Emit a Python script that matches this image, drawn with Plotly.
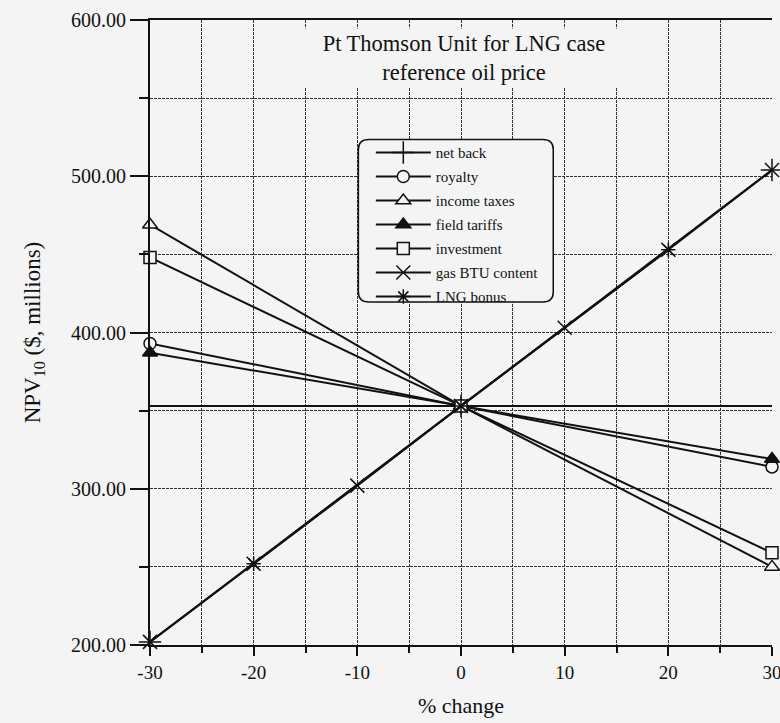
import plotly.graph_objects as go

# Sensitivity of NPV10 to percentage changes in each input
pct_change = [-30, -20, -10, 0, 10, 20, 30]
end_points = [-30, 0, 30]
bonus_points = [-20, 0, 20]

gas_btu = [202, 252, 302, 353, 403, 453, 504]
net_back = [202, 353, 504]
lng_bonus = [252, 353, 453]
royalty = [393, 353, 314]
income_taxes = [469, 353, 250]
field_tariffs = [387, 353, 319]
investment = [448, 353, 259]
base_case = [353, 353]
base_span = [-30, 30]

x_ticks = [-30, -20, -10, 0, 10, 20, 30]
y_ticks = [200, 300, 400, 500, 600]

BG = "#f4f4f4"
INK = "#111111"
SERIF = "Liberation Serif, Times New Roman, serif"

fig = go.Figure()


def add_series(name, xs, ys, symbol, size, fill):
    # fill: colour inside closed symbols; stroke-only symbols take INK
    fig.add_trace(go.Scatter(
        x=xs, y=ys, name=name, mode="lines+markers",
        legendgroup=name,
        line=dict(color=INK, width=2),
        marker=dict(symbol=symbol, size=size, color=fill,
                    line=dict(color=INK, width=1.5)),
        cliponaxis=False,
    ))


# flat base-case line
fig.add_trace(go.Scatter(x=base_span, y=base_case, mode="lines",
                         line=dict(color=INK, width=2), showlegend=False,
                         hoverinfo="skip"))

add_series("net back", end_points, net_back, "cross-thin-open", 16, INK)
add_series("royalty", end_points, royalty, "circle", 12, BG)
add_series("income taxes", end_points, income_taxes, "triangle-up", 13, BG)
add_series("field tariffs", end_points, field_tariffs, "triangle-up", 13, INK)
add_series("investment", end_points, investment, "square", 12, BG)
add_series("gas BTU content", pct_change, gas_btu, "x-thin-open", 14, INK)
add_series("LNG bonus", bonus_points, lng_bonus, "asterisk-open", 12, INK)

# rounded legend frame, in data units
x0, x1, y0, y1 = -9.9, 8.9, 419.5, 523.5
rx, ry = 1.0, 6.4
frame = (f"M {x0+rx},{y0} L {x1-rx},{y0} Q {x1},{y0} {x1},{y0+ry} "
         f"L {x1},{y1-ry} Q {x1},{y1} {x1-rx},{y1} L {x0+rx},{y1} "
         f"Q {x0},{y1} {x0},{y1-ry} L {x0},{y0+ry} Q {x0},{y0} {x0+rx},{y0} Z")
fig.add_shape(type="path", path=frame, xref="x", yref="y",
              line=dict(color=INK, width=1.5), fillcolor=BG, layer="between")

fig.add_annotation(
    text="Pt Thomson Unit for LNG case<br>reference oil price",
    xref="paper", yref="paper", x=0.505, y=0.987, xanchor="center", yanchor="top",
    showarrow=False, align="center", width=340,
    font=dict(family=SERIF, size=22.5, color=INK),
    bgcolor=BG, borderpad=2,
)

fig.update_layout(
    width=780, height=723,
    margin=dict(l=150, r=8, t=20, b=78, autoexpand=False),
    paper_bgcolor=BG, plot_bgcolor=BG,
    font=dict(family=SERIF, color=INK),
    legend=dict(
        x=0.355, y=0.814, xanchor="left", yanchor="top",
        bgcolor="rgba(0,0,0,0)", borderwidth=0,
        font=dict(family=SERIF, size=15, color=INK),
        tracegroupgap=1.5, itemwidth=55,
    ),
    xaxis=dict(
        range=[-30, 30], tickvals=x_ticks, ticktext=[str(v) for v in x_ticks],
        automargin=False,
        showline=True, linecolor=INK, linewidth=2, mirror=True,
        ticks="outside", ticklen=9, tickwidth=2, tickcolor=INK,
        tickfont=dict(family=SERIF, size=19, color=INK),
        ticklabeloverflow="allow",
        showgrid=True, gridcolor="#333333", gridwidth=1.2, griddash="3px,1px",
        minor=dict(dtick=5, ticks="outside", ticklen=6, tickwidth=1.5,
                   tickcolor=INK, showgrid=True, gridcolor="#333333",
                   gridwidth=1.2, griddash="3px,1px"),
        zeroline=False,
        title=dict(text="% change", font=dict(family=SERIF, size=22, color=INK),
                   standoff=16),
    ),
    yaxis=dict(
        range=[200, 600], tickvals=y_ticks, tickformat=".2f",
        automargin=False,
        showline=True, linecolor=INK, linewidth=2,
        ticks="outside", ticklen=18, tickwidth=1.5, tickcolor=INK,
        tickfont=dict(family=SERIF, size=20, color=INK),
        showgrid=True, gridcolor="#333333", gridwidth=1.2, griddash="3px,1px",
        minor=dict(dtick=50, ticks="outside", ticklen=9, tickwidth=1.5,
                   tickcolor=INK, showgrid=True, gridcolor="#333333",
                   gridwidth=1.2, griddash="3px,1px"),
        zeroline=False,
        title=dict(text="NPV<sub>10</sub> ($, millions)",
                   font=dict(family=SERIF, size=23, color=INK), standoff=24),
    ),
)

fig.write_html("out.html")
